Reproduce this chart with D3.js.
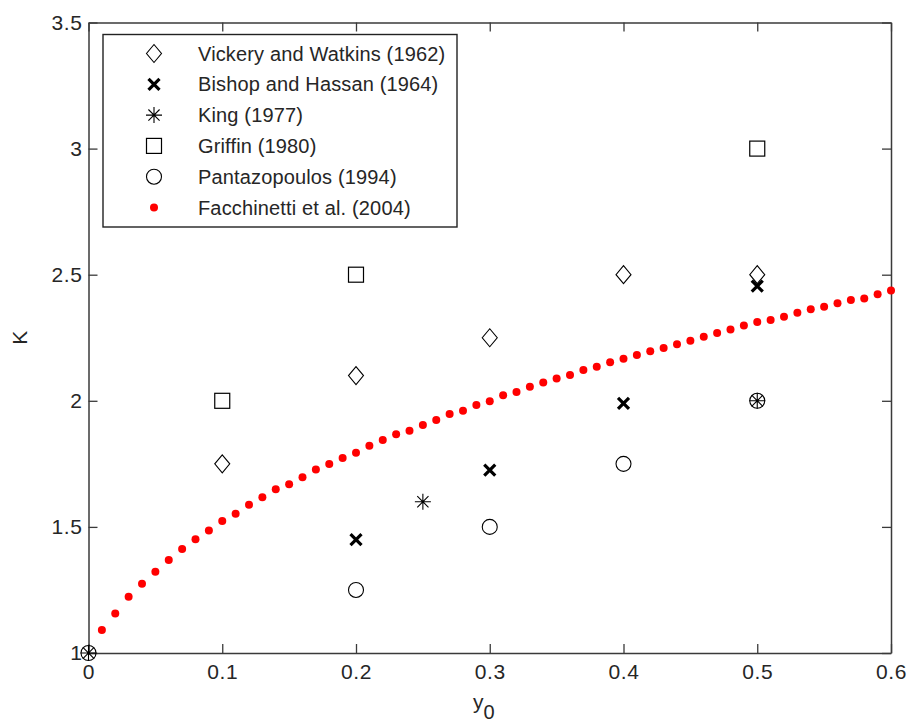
<!DOCTYPE html>
<html>
<head>
<meta charset="utf-8">
<script src="https://cdn.jsdelivr.net/npm/d3@7"></script>
<style>
  body { margin: 0; background: #fff; }
  svg { font-family: "Liberation Sans", Arial, sans-serif; }
</style>
</head>
<body>
<div id="chart"></div>
<script>
// ---- data ----
const vickeryX = [0.1, 0.2, 0.3, 0.4, 0.5];
const vickeryK = [1.75, 2.1, 2.25, 2.5, 2.5];

const bishopX = [0.2, 0.3, 0.4, 0.5];
const bishopK = [1.45, 1.725, 1.99, 2.455];

const kingX = [0, 0.25, 0.5];
const kingK = [1, 1.6, 2.0];

const griffinX = [0.1, 0.2, 0.5];
const griffinK = [2.0, 2.5, 3.0];

const pantazX = [0, 0.2, 0.3, 0.4, 0.5];
const pantazK = [1, 1.25, 1.5, 1.75, 2.0];

const facchX = [0.01, 0.02, 0.03, 0.04, 0.05, 0.06, 0.07, 0.08, 0.09, 0.10,
                0.11, 0.12, 0.13, 0.14, 0.15, 0.16, 0.17, 0.18, 0.19, 0.20,
                0.21, 0.22, 0.23, 0.24, 0.25, 0.26, 0.27, 0.28, 0.29, 0.30,
                0.31, 0.32, 0.33, 0.34, 0.35, 0.36, 0.37, 0.38, 0.39, 0.40,
                0.41, 0.42, 0.43, 0.44, 0.45, 0.46, 0.47, 0.48, 0.49, 0.50,
                0.51, 0.52, 0.53, 0.54, 0.55, 0.56, 0.57, 0.58, 0.59, 0.60];
const facchK = [1.091, 1.157, 1.223, 1.275, 1.322, 1.369, 1.412, 1.451, 1.486, 1.523,
                1.552, 1.588, 1.618, 1.649, 1.669, 1.697, 1.728, 1.749, 1.773, 1.794,
                1.822, 1.845, 1.867, 1.881, 1.904, 1.924, 1.948, 1.961, 1.983, 1.998,
                2.022, 2.035, 2.056, 2.073, 2.088, 2.102, 2.122, 2.135, 2.153, 2.167,
                2.182, 2.196, 2.209, 2.224, 2.238, 2.254, 2.269, 2.283, 2.299, 2.312,
                2.320, 2.333, 2.349, 2.363, 2.373, 2.387, 2.400, 2.406, 2.422, 2.437];

const xTicks = [0, 0.1, 0.2, 0.3, 0.4, 0.5, 0.6];
const yTicks = [1, 1.5, 2, 2.5, 3, 3.5];

const legendLabels = [
    "Vickery and Watkins (1962)",
    "Bishop and Hassan (1964)",
    "King (1977)",
    "Griffin (1980)",
    "Pantazopoulos (1994)",
    "Facchinetti et al. (2004)"
];

// ---- layout ----
const W = 909, H = 724;
const margin = { top: 22.5, right: 18, bottom: 71, left: 88.5 };
const width = W - margin.left - margin.right;
const height = H - margin.top - margin.bottom;
const axisColor = "#3a3a3a";
const textColor = "#262626";

const svg = d3.select("#chart")
    .append("svg")
    .attr("width", W)
    .attr("height", H);

const g = svg.append("g")
    .attr("transform", `translate(${margin.left},${margin.top})`);

const xScale = d3.scaleLinear().domain([0, 0.6]).range([0, width]);
const yScale = d3.scaleLinear().domain([1, 3.5]).range([height, 0]);

// ---- marker shapes (drawn around 0,0) ----
function drawDiamond(sel) {
    sel.append("path")
        .attr("d", "M0,-9L7.5,0L0,9L-7.5,0Z")
        .attr("fill", "none").attr("stroke", "#000").attr("stroke-width", 1.1);
}
function drawCross(sel) {
    sel.append("path")
        .attr("d", "M-5.5,-5.5L5.5,5.5M-5.5,5.5L5.5,-5.5")
        .attr("fill", "none").attr("stroke", "#000").attr("stroke-width", 3.2);
}
function drawStar(sel) {
    sel.append("path")
        .attr("d", "M0,-8L0,8M-8,0L8,0M-5.6,-5.6L5.6,5.6M-5.6,5.6L5.6,-5.6")
        .attr("fill", "none").attr("stroke", "#000").attr("stroke-width", 1.1);
}
function drawSquare(sel) {
    sel.append("rect")
        .attr("x", -7.5).attr("y", -7.5).attr("width", 15).attr("height", 15)
        .attr("fill", "none").attr("stroke", "#000").attr("stroke-width", 1.2);
}
function drawCircle(sel) {
    sel.append("circle")
        .attr("r", 7.5)
        .attr("fill", "none").attr("stroke", "#000").attr("stroke-width", 1.1);
}
function drawDot(sel) {
    sel.append("circle")
        .attr("r", 4)
        .attr("fill", "#ff0000");
}

const series = [
    { xs: vickeryX, ks: vickeryK, draw: drawDiamond },
    { xs: bishopX, ks: bishopK, draw: drawCross },
    { xs: kingX, ks: kingK, draw: drawStar },
    { xs: griffinX, ks: griffinK, draw: drawSquare },
    { xs: pantazX, ks: pantazK, draw: drawCircle },
    { xs: facchX, ks: facchK, draw: drawDot }
];

// ---- axes box with inward ticks on all sides ----
const tickLen = 9;

const axisG = g.append("g");

axisG.append("g")
    .attr("transform", `translate(0,${height})`)
    .call(d3.axisBottom(xScale).tickValues(xTicks).tickSizeInner(-tickLen).tickSizeOuter(0)
        .tickPadding(11).tickFormat(d => d === 0 ? "0" : d3.format(".1f")(d)));

axisG.append("g")
    .call(d3.axisTop(xScale).tickValues(xTicks).tickSizeInner(-tickLen).tickSizeOuter(0)
        .tickFormat(""));

axisG.append("g")
    .call(d3.axisLeft(yScale).tickValues(yTicks).tickSizeInner(-tickLen).tickSizeOuter(0)
        .tickPadding(6).tickFormat(d => d3.format("~g")(d)));

axisG.append("g")
    .attr("transform", `translate(${width},0)`)
    .call(d3.axisRight(yScale).tickValues(yTicks).tickSizeInner(-tickLen).tickSizeOuter(0)
        .tickFormat(""));

axisG.selectAll(".domain").attr("stroke", axisColor).attr("stroke-width", 1.5);
axisG.selectAll(".tick line").attr("stroke", axisColor).attr("stroke-width", 1.3);
axisG.selectAll(".tick text")
    .attr("fill", textColor)
    .style("font-size", "21px")
    .style("letter-spacing", "0.6px");

// ---- data marks ----
series.forEach(s => {
    s.xs.forEach((x, i) => {
        const m = g.append("g")
            .attr("transform", `translate(${xScale(x)},${yScale(s.ks[i])})`);
        s.draw(m);
    });
});

// ---- axis labels ----
const xLabel = svg.append("text")
    .attr("x", margin.left + width / 2 - 6)
    .attr("y", 709)
    .attr("text-anchor", "middle")
    .attr("fill", textColor)
    .style("font-size", "21px");
xLabel.append("tspan").text("y");
xLabel.append("tspan").attr("dy", 10).style("font-size", "20px").text("0");

svg.append("text")
    .attr("transform", `translate(27,${margin.top + height / 2}) rotate(-90)`)
    .attr("text-anchor", "middle")
    .attr("fill", textColor)
    .style("font-size", "21px")
    .text("K");

// ---- legend ----
const legend = g.append("g")
    .attr("transform", `translate(${103 - margin.left},${34.5 - margin.top})`);

legend.append("rect")
    .attr("width", 354)
    .attr("height", 192.5)
    .attr("fill", "#fff")
    .attr("stroke", "#222")
    .attr("stroke-width", 1.4);

legendLabels.forEach((label, i) => {
    const rowY = 19 + i * 30.8;
    const m = legend.append("g").attr("transform", `translate(51,${rowY})`);
    series[i].draw(m);
    legend.append("text")
        .attr("x", 95)
        .attr("y", rowY)
        .attr("dy", "0.35em")
        .attr("fill", textColor)
        .style("font-size", "20px")
        .style("letter-spacing", "0.15px")
        .text(label);
});
</script>
</body>
</html>
